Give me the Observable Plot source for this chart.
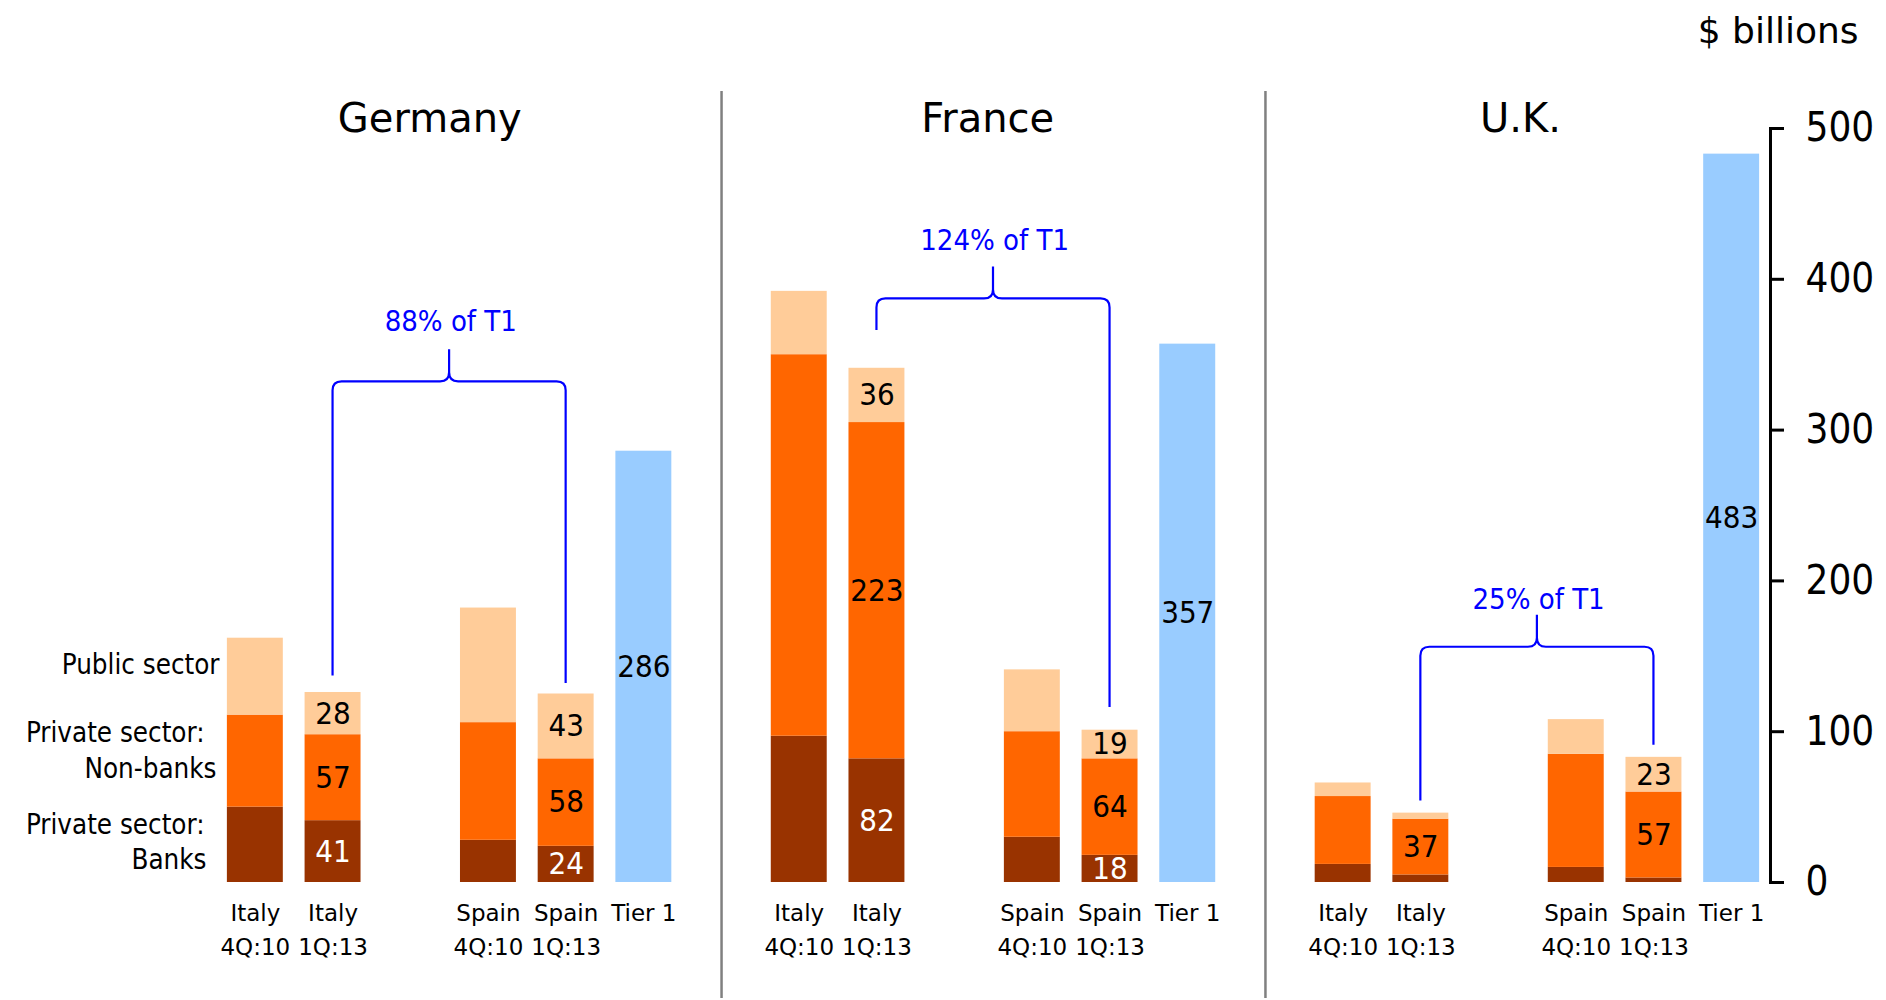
<!DOCTYPE html>
<html>
<head>
<meta charset="utf-8">
<script src="https://cdn.jsdelivr.net/npm/d3@7"></script>
<script src="https://cdn.jsdelivr.net/npm/@observablehq/plot@0.6"></script>
<style>
  html, body { margin: 0; padding: 0; background: #fff; }
  #chart svg { display: block; }
</style>
</head>
<body>
<div id="chart"></div>
<script>
// Claims of German, French and U.K. banks on Italy and Spain vs. their Tier 1 capital ($ billions)
const countries = ["Germany", "France", "U.K."];
const bars = ["Italy 4Q:10", "Italy 1Q:13", "Spain 4Q:10", "Spain 1Q:13"];
const barTicks = ["Italy\n4Q:10", "Italy\n1Q:13", "Spain\n4Q:10", "Spain\n1Q:13"];
const tierTick = "Tier 1";
const series = ["Private sector: Banks", "Private sector: Non-banks", "Public sector"];

// one row per lending country, one column per bar
const banks        = [[50, 41, 28, 24], [97, 82, 30, 18], [12, 5, 10, 3]];
const nonBanks     = [[61, 57, 78, 58], [253, 223, 70, 64], [45, 37, 75, 57]];
const publicSector = [[51, 28, 76, 43], [42, 36, 41, 19], [9, 4, 23, 23]];
const tier1 = [286, 357, 483];
const braceLabels = ["88% of T1", "124% of T1", "25% of T1"];

// brace geometry in $ billions: crossbar level and where each leg stops
const braceLevel = [332, 387, 156];
const braceLegs = [[137, 132], [366, 116], [54, 91]];

// pixel nudges for the country titles and the brace captions
const titleDx = [19, 33, 22];
const captionDy = [-51, -49, -38];

const COND = "'DejaVu Sans Condensed', 'DejaVu Sans', sans-serif";
const SANS = "'DejaVu Sans', sans-serif";
const BLUE = "#0000ff";

// x slots: six per country (with an empty slot between Italy and Spain) plus a divider slot
const slotOrder = [bars[0], bars[1], "gap", bars[2], bars[3], "Tier 1"];
const key = (c, s) => `${c}|${s}`;
const xDomain = countries.flatMap((c, i) => [
  ...slotOrder.map(s => key(c, s)),
  ...(i < countries.length - 1 ? [`sep${i}`] : [])
]);
const dividers = countries.slice(0, -1).map((c, i) => `sep${i}`);

const rows = [];
countries.forEach((c, ci) => {
  bars.forEach((b, bi) => {
    [banks, nonBanks, publicSector].forEach((arr, si) => {
      rows.push({country: c, key: key(c, b), series: series[si], value: arr[ci][bi], labeled: b.endsWith("1Q:13")});
    });
  });
  rows.push({country: c, key: key(c, "Tier 1"), series: "Tier 1", value: tier1[ci], labeled: true});
});

const ticks = countries.flatMap(c => [
  ...bars.map((b, i) => ({key: key(c, b), text: barTicks[i]})),
  {key: key(c, "Tier 1"), text: tierTick}
]);

// legend lines sit beside the segments of the first bar
const first = rows.filter(d => d.key === key(countries[0], bars[0]));
let acc = 0;
const segMid = first.map(d => { const m = acc + d.value / 2; acc += d.value; return m; });
const legendLines = [
  {seg: 2, text: "Public sector", dy: -3, dx: 3},
  {seg: 1, text: "Private sector:", dy: -19, dx: -12},
  {seg: 1, text: "Non-banks", dy: 17, dx: 0},
  {seg: 0, text: "Private sector:", dy: -11, dx: -12},
  {seg: 0, text: "Banks", dy: 24, dx: -10}
];

const segLabel = (d, isBank) =>
  d.labeled && d.value >= 10 && (d.series === series[0]) === isBank ? String(d.value) : null;

// curly braces joining the two 1Q:13 bars of each country
function braces(index, scales) {
  const x = scales.x, y = scales.y;
  const bw = typeof x.bandwidth === "function" ? x.bandwidth() : (scales.scales?.x?.bandwidth ?? 0);
  const cx = k => x(k) + bw / 2;
  const NS = "http://www.w3.org/2000/svg";
  const g = document.createElementNS(NS, "g");
  const r = 9, peak = 32;
  countries.forEach((c, i) => {
    const xl = cx(key(c, bars[1])), xr = cx(key(c, bars[3]));
    const xm = (xl + xr) / 2;
    const yh = y(braceLevel[i]);
    const yl = y(braceLegs[i][0]), yr = y(braceLegs[i][1]);
    const d = `M${xl},${yl}V${yh + r}Q${xl},${yh} ${xl + r},${yh}H${xm - r}` +
      `Q${xm},${yh} ${xm},${yh - r}V${yh - peak}M${xm},${yh - r}Q${xm},${yh} ${xm + r},${yh}` +
      `H${xr - r}Q${xr},${yh} ${xr},${yh + r}V${yr}`;
    const p = document.createElementNS(NS, "path");
    p.setAttribute("d", d);
    p.setAttribute("fill", "none");
    p.setAttribute("stroke", BLUE);
    p.setAttribute("stroke-width", 2.2);
    g.appendChild(p);
  });
  return g;
}

const chart = Plot.plot({
  width: 1886,
  height: 1000,
  marginTop: 128,
  marginBottom: 118,
  marginLeft: 216,
  marginRight: 116,
  style: {fontFamily: SANS, background: "white", color: "black"},
  x: {type: "band", domain: xDomain, paddingInner: 0.28, paddingOuter: 0.14, round: false, axis: null},
  y: {domain: [0, 500], axis: null},
  color: {domain: [...series, "Tier 1"], range: ["#993300", "#ff6600", "#ffcc99", "#99ccff"]},
  marks: [
    Plot.ruleX(dividers, {x: d => d, stroke: "#808080", strokeWidth: 2.5, insetTop: -37, insetBottom: -116}),
    Plot.barY(rows, {x: "key", y: "value", fill: "series"}),
    Plot.text(rows, Plot.stackY({x: "key", y: "value", text: d => segLabel(d, true), fill: "white", fontFamily: COND, fontSize: 31})),
    Plot.text(rows, Plot.stackY({x: "key", y: "value", text: d => segLabel(d, false), fill: "black", fontFamily: COND, fontSize: 31})),
    Plot.text(ticks, {x: "key", text: "text", frameAnchor: "bottom", lineAnchor: "top", dy: 14, fontSize: 23, lineHeight: 1.5, fill: "black"}),
    Plot.axisY({anchor: "right", ticks: d3.range(0, 501, 100), tickSize: 13, tickPadding: 22, fontSize: 40, fontFamily: COND, strokeWidth: 3, label: null, tickFormat: d3.format("d")}),
    Plot.frame({anchor: "right", stroke: "black", strokeWidth: 3}),
    ...countries.map((c, i) => Plot.text([c], {
      x: d => key(d, "gap"), text: d => d, frameAnchor: "top", lineAnchor: "bottom",
      dy: 3, dx: titleDx[i], fontSize: 40, fill: "black"
    })),
    Plot.text(["$ billions"], {frameAnchor: "top-right", textAnchor: "end", lineAnchor: "bottom", dx: 88, dy: -86, fontSize: 36, fill: "black"}),
    ...legendLines.map(l => Plot.text([l], {
      y: d => segMid[d.seg], text: "text", frameAnchor: "left", textAnchor: "end", lineAnchor: "bottom",
      dx: l.dx, dy: l.dy, fontSize: 27.5, fontFamily: COND, fill: "black"
    })),
    braces,
    ...countries.map((c, i) => Plot.text([c], {
      x: d => key(d, "gap"), y: () => braceLevel[i], text: () => braceLabels[i],
      lineAnchor: "bottom", dx: 40, dy: captionDy[i], fontSize: 29, fontFamily: COND, fill: BLUE
    }))
  ]
});

document.getElementById("chart").appendChild(chart);
</script>
</body>
</html>
